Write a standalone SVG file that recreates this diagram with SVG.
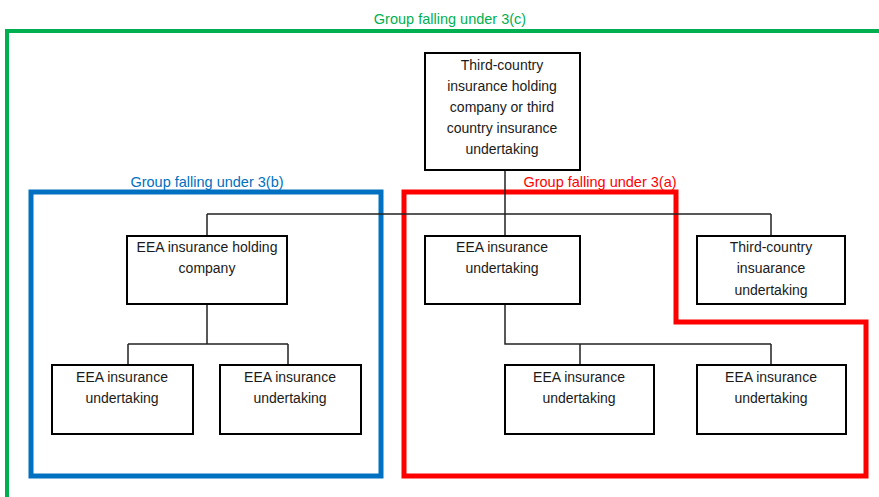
<svg xmlns="http://www.w3.org/2000/svg" width="879" height="497" viewBox="0 0 879 497">
<style>
.box{fill:#fff;stroke:#000;stroke-width:2}
.t{font-family:"Liberation Sans",Arial,sans-serif;font-size:14px;fill:#1a1a1a;text-anchor:middle}
.lbl{font-family:"Liberation Sans",Arial,sans-serif;font-size:14.5px;text-anchor:middle}
.c{fill:none;stroke:#222;stroke-width:1.5}
</style>
<rect width="879" height="497" fill="#fff"/>
<g id="frames">
<g id="group-3c">
<rect x="7" y="31" width="900" height="500" fill="none" stroke="#00B050" stroke-width="4"/>
<text class="lbl" x="450" y="24" fill="#00B050">Group falling under 3(c)</text>
</g>
<g id="group-3b">
<rect x="31" y="192" width="350" height="284" fill="none" stroke="#0070C0" stroke-width="5"/>
<text class="lbl" x="207" y="187" fill="#0070C0">Group falling under 3(b)</text>
</g>
<g id="group-3a">
<polygon points="404,192 676,192 676,322 866,322 866,476 404,476" fill="none" stroke="#FF0000" stroke-width="5"/>
<text class="lbl" x="600" y="187" fill="#FF0000">Group falling under 3(a)</text>
</g>
</g>
<g id="connectors">
<path class="c" d="M505,170 V214 M207,214 H771 M207,214 V236 M505,214 V236 M771,214 V236"/>
<path class="c" d="M207,304 V344 M128,344 H288 M128,344 V365 M288,344 V365"/>
<path class="c" d="M505,304 V344 H771 M580,344 V365 M771,344 V365"/>
</g>
<g id="top">
<rect class="box" x="425" y="53" width="155" height="117"/>
<text class="t" x="502" y="70">Third-country</text>
<text class="t" x="502" y="91">insurance holding</text>
<text class="t" x="502" y="112">company or third</text>
<text class="t" x="502" y="133">country insurance</text>
<text class="t" x="502" y="154">undertaking</text>
</g>
<g id="eea-holding">
<rect class="box" x="127" y="236" width="160" height="68"/>
<text class="t" x="207" y="252">EEA insurance holding</text>
<text class="t" x="207" y="273">company</text>
</g>
<g id="eea-undertaking-mid">
<rect class="box" x="425" y="236" width="155" height="68"/>
<text class="t" x="502" y="252">EEA insurance</text>
<text class="t" x="502" y="273">undertaking</text>
</g>
<g id="third-country-undertaking">
<rect class="box" x="697" y="236" width="148" height="68"/>
<text class="t" x="771" y="252">Third-country</text>
<text class="t" x="771" y="273">insuarance</text>
<text class="t" x="771" y="295">undertaking</text>
</g>
<g id="eea-b1">
<rect class="box" x="52" y="365" width="141" height="69"/>
<text class="t" x="122" y="382">EEA insurance</text>
<text class="t" x="122" y="403">undertaking</text>
</g>
<g id="eea-b2">
<rect class="box" x="220" y="365" width="141" height="69"/>
<text class="t" x="290" y="382">EEA insurance</text>
<text class="t" x="290" y="403">undertaking</text>
</g>
<g id="eea-a1">
<rect class="box" x="505" y="365" width="149" height="69"/>
<text class="t" x="579" y="382">EEA insurance</text>
<text class="t" x="579" y="403">undertaking</text>
</g>
<g id="eea-a2">
<rect class="box" x="697" y="365" width="149" height="69"/>
<text class="t" x="771" y="382">EEA insurance</text>
<text class="t" x="771" y="403">undertaking</text>
</g>
</svg>
